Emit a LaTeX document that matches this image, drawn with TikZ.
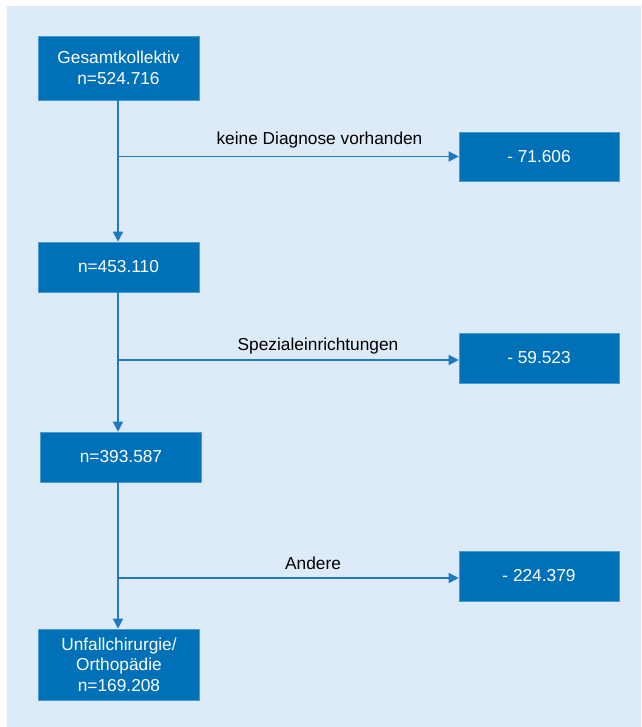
\documentclass[tikz,border=0pt]{standalone}
\usepackage{fontspec}
\setmainfont{Liberation Sans}
\usetikzlibrary{arrows.meta}
\definecolor{bg}{RGB}{221,234,247}
\definecolor{boxblue}{RGB}{0,112,184}
\definecolor{linkblue}{RGB}{30,122,192}
\tikzset{
  flowbox/.style={fill=boxblue, draw=boxblue!70!white, line width=0.6pt, text=white, align=center, inner sep=0pt, minimum width=161pt, font=\fontsize{17.3}{20.5}\selectfont},
  flowlabel/.style={anchor=base, inner sep=0pt, text=black, font=\fontsize{17.3}{20.5}\selectfont},
  flowarrow/.style={draw=linkblue, line width=1.4pt, -{Triangle[length=10pt,width=10pt]}}
}
\begin{document}
\begin{tikzpicture}[x=1pt,y=-1pt]
\useasboundingbox (0,0) rectangle (641,727);
\fill[bg] (7,6) rectangle (641,727);
\node[flowbox, minimum height=64pt] (b1) at (118.5,68) {Gesamtkollektiv\\n=524.716};
\node[flowbox, minimum height=50pt] (b2) at (118.5,267) {n=453.110};
\node[flowbox, minimum height=50pt] (b3) at (121,457) {n=393.587};
\node[flowbox, minimum height=71pt] (b4) at (119,664.5) {Unfallchirurgie/\\Orthopädie\\n=169.208};
\node[flowbox, minimum width=160pt, minimum height=49pt] (d1) at (539,156.5) {- 71.606};
\node[flowbox, minimum width=160pt, minimum height=50pt] (d2) at (539,358) {- 59.523};
\node[flowbox, minimum width=160pt, minimum height=50pt] (d3) at (539,576) {- 224.379};
\node[flowlabel] (l1) at (319.5,145) {keine Diagnose vorhanden};
\node[flowlabel] (l2) at (318,350) {Spezialeinrichtungen};
\node[flowlabel] (l3) at (313,569) {Andere};
\coordinate (s1) at (118,156.5);
\coordinate (s2) at (118,360);
\coordinate (s3) at (118,578);
\draw[flowarrow] (b1.south -| s1) -- (b2.north -| s1);
\draw[flowarrow] (b2.south -| s1) -- (b3.north -| s1);
\draw[flowarrow] (b3.south -| s1) -- (b4.north -| s1);
\draw[flowarrow] (s1) -- (s1 -| d1.west);
\draw[flowarrow] (s2) -- (s2 -| d2.west);
\draw[flowarrow] (s3) -- (s3 -| d3.west);
\end{tikzpicture}
\end{document}
